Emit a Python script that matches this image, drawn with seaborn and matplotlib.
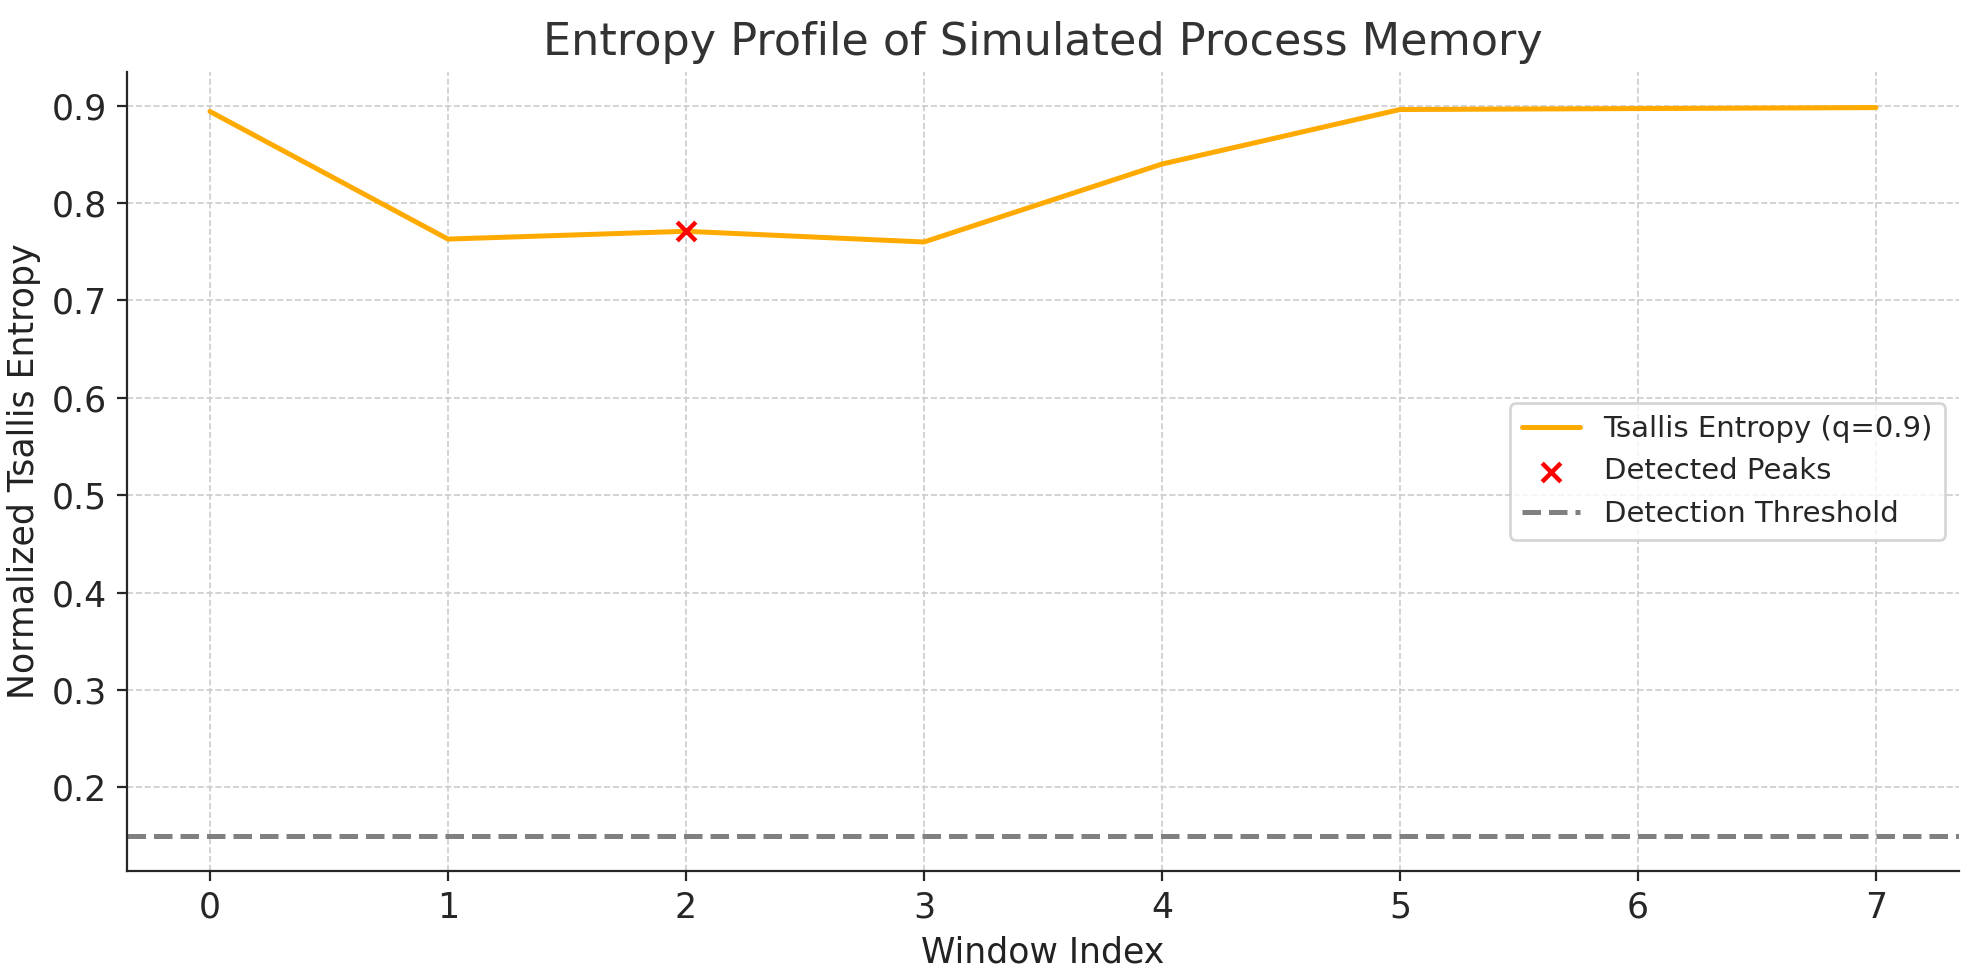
import seaborn as sns
import matplotlib.pyplot as plt
import pandas as pd

windows = [0, 1, 2, 3, 4, 5, 6, 7]
entropy = [0.894, 0.763, 0.771, 0.760, 0.840, 0.896, 0.897, 0.898]
peak_windows = [2]
peak_values = [0.771]
threshold = 0.15

df = pd.DataFrame({'Window': windows, 'Entropy': entropy})
peaks = pd.DataFrame({'Window': peak_windows, 'Entropy': peak_values})

sns.set_style("ticks")
fig, ax = plt.subplots(figsize=(9.895, 4.9), dpi=200)

sns.lineplot(data=df, x='Window', y='Entropy', color='#FFAA00', linewidth=1.8,
             label='Tsallis Entropy (q=0.9)', ax=ax)
sns.scatterplot(data=peaks, x='Window', y='Entropy', color='red', marker='x',
                s=45, linewidth=1.6, label='Detected Peaks', ax=ax, zorder=3)
ax.axhline(threshold, color='gray', linestyle='--', linewidth=1.8, label='Detection Threshold')

ax.set_ylim(0.114, 0.935)
ax.set_xticks(windows)
ax.grid(True, linestyle='--', linewidth=0.6, color='#cccccc')
ax.set_axisbelow(True)
sns.despine(ax=ax)

ax.set_title('Entropy Profile of Simulated Process Memory', fontsize=16, color='#333333')
ax.set_xlabel('Window Index', fontsize=12.5, color='#222222')
ax.set_ylabel('Normalized Tsallis Entropy', fontsize=12.5, color='#222222')
ax.tick_params(labelsize=12.5)
ax.legend(loc='center right', fontsize=10.5, frameon=True)

fig.subplots_adjust(left=0.064, right=0.990, top=0.927, bottom=0.111)
plt.savefig('out.png', dpi=200)
